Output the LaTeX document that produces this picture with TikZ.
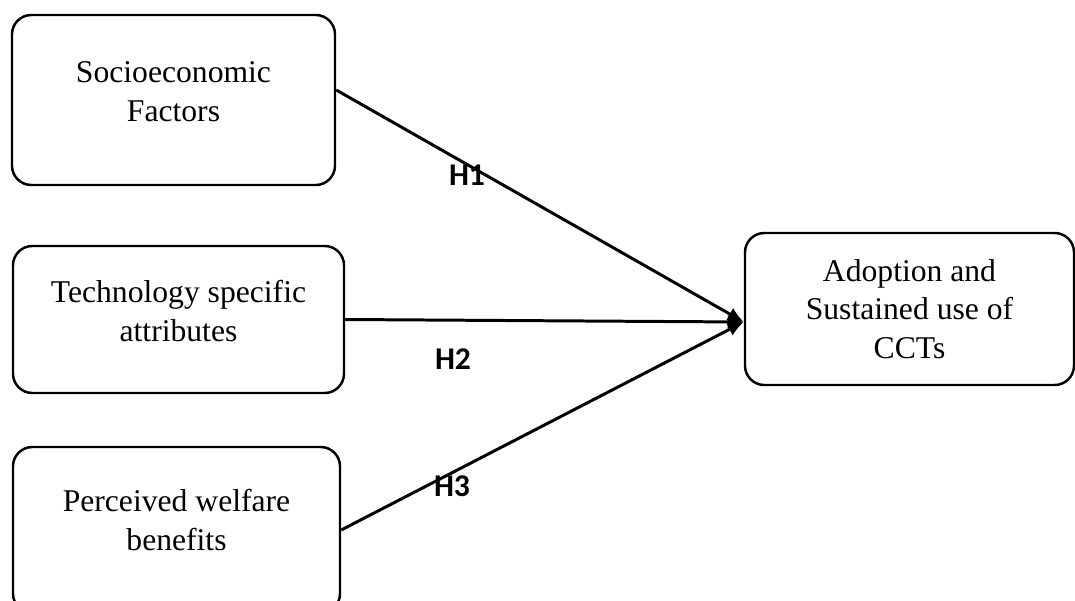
\documentclass[tikz,border=0pt]{standalone}
\usepackage{fontspec}
\setmainfont{Liberation Serif}
\newfontfamily\hypfont{Carlito}
\usepackage{tikz}
\usetikzlibrary{arrows.meta, positioning}

\tikzset{
  factorbox/.style={draw=black, line width=1.4pt, rounded corners=11pt, align=center,
    font=\fontsize{18}{22}\selectfont, inner sep=2pt},
  hyplabel/.style={font=\hypfont\bfseries\fontsize{18}{21}\selectfont, inner sep=0pt},
  hyparrow/.style={line width=1.7pt, -{Latex[length=3.2mm,width=2.8mm]}}
}

\begin{document}
\begin{tikzpicture}
  \useasboundingbox (0,0) rectangle (21.5,12);

  % --- Left: factors ---
  \node[factorbox, minimum width=6.46cm, minimum height=3.4cm, text depth=0.34cm] (socio) at (3.47,10.0) {Socioeconomic\\Factors};
  \node[factorbox, minimum width=6.62cm, minimum height=2.94cm, text depth=0.34cm] (techattr) at (3.57,5.61) {Technology specific\\attributes};
  \node[factorbox, minimum width=6.54cm, minimum height=3.32cm, text depth=0.4cm] (welfare) at (3.53,1.4) {Perceived welfare\\benefits};

  % --- Right: outcome ---
  \node[factorbox, minimum width=6.58cm, minimum height=3.04cm] (adoption) at (18.19,5.82) {Adoption and\\Sustained use of\\CCTs};
  \coordinate (target) at ([yshift=-0.26cm]adoption.west);

  % Hypotheses
  \draw[hyparrow] ([yshift=0.2cm]socio.east) -- (target);
  \draw[hyparrow] (techattr.east) -- (target);
  \draw[hyparrow] (welfare.east) -- (target);

  \node[hyplabel] (h1) at (9.34,8.5) {H1};
  \node[hyplabel] (h2) at (9.06,4.82) {H2};
  \node[hyplabel] (h3) at (9.04,2.28) {H3};
\end{tikzpicture}
\end{document}
